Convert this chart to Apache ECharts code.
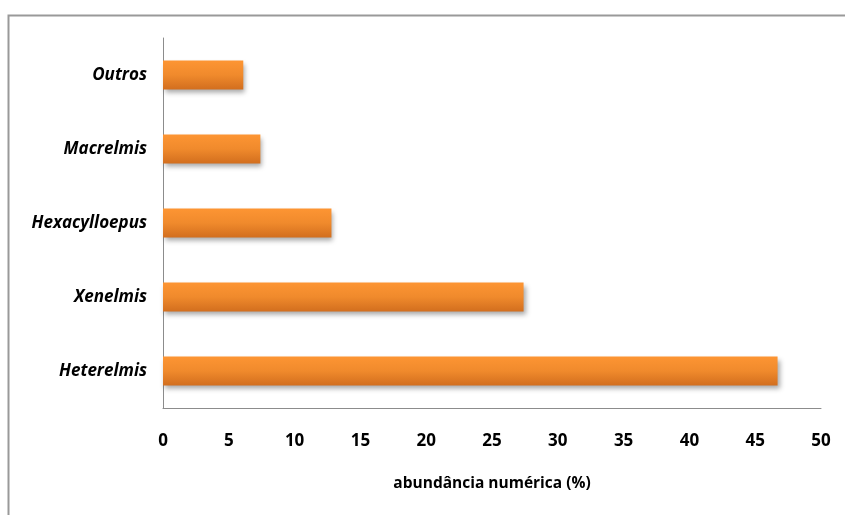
<!DOCTYPE html>
<html><head><meta charset="utf-8">
<script src="https://cdn.jsdelivr.net/npm/echarts@6/dist/echarts.min.js"></script>
<style>html,body{margin:0;padding:0;background:#fff}#c{width:845px;height:515px}</style>
</head><body><div id="c"></div>
<script>
const categories = ['Heterelmis', 'Xenelmis', 'Hexacylloepus', 'Macrelmis', 'Outros'];
const values = [46.7, 27.4, 12.8, 7.4, 6.1];
const xTicks = [0, 5, 10, 15, 20, 25, 30, 35, 40, 45, 50];
const xTitle = 'abundância numérica (%)';

const chart = echarts.init(document.getElementById('c'));
chart.setOption({
  animation: false,
  backgroundColor: '#fff',
  graphic: [{
    type: 'rect', left: 6, top: 13, shape: {width: 850, height: 520},
    style: {fill: 'none', stroke: '#999', lineWidth: 2}
  }],
  grid: {left: 163, right: 24, top: 38, bottom: 107},
  xAxis: {
    type: 'value', min: xTicks[0], max: xTicks[xTicks.length - 1], interval: 5,
    name: xTitle, nameLocation: 'middle', nameGap: 68,
    nameTextStyle: {fontFamily: 'Open Sans', fontWeight: 'bold', fontSize: 15.5, color: '#000'},
    axisLine: {show: true, lineStyle: {color: '#8c8c8c', width: 1}},
    axisTick: {show: false},
    splitLine: {show: false},
    axisLabel: {fontFamily: 'Open Sans', fontWeight: 'bold', fontSize: 17, color: '#000', margin: 25}
  },
  yAxis: {
    type: 'category', data: categories,
    axisLine: {show: true, lineStyle: {color: '#8c8c8c', width: 1}},
    axisTick: {show: false},
    axisLabel: {fontFamily: 'Open Sans', fontWeight: 'bold', fontStyle: 'italic', fontSize: 17, color: '#000', margin: 16}
  },
  series: [{
    type: 'bar', data: values, barWidth: 29,
    itemStyle: {
      color: new echarts.graphic.LinearGradient(0, 0, 0, 1, [
        {offset: 0, color: '#fd9533'},
        {offset: 0.5, color: '#f08a2c'},
        {offset: 1, color: '#d26e1e'}
      ]),
      shadowColor: 'rgba(0,0,0,0.35)', shadowBlur: 5, shadowOffsetX: 2, shadowOffsetY: 3
    }
  }]
});
</script></body></html>
